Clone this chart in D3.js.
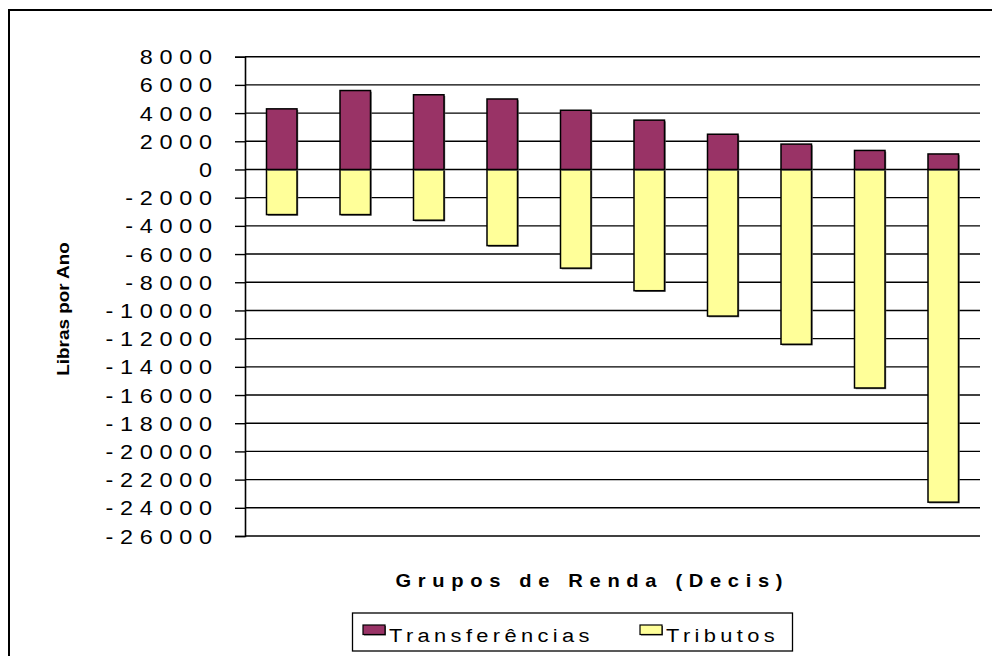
<!DOCTYPE html>
<html><head><meta charset="utf-8">
<script src="https://cdn.jsdelivr.net/npm/d3@7"></script>
<style>html,body{margin:0;padding:0;background:#fff;}svg{display:block;}</style>
</head><body>
<svg id="chart" width="992" height="656"></svg>
<script>
const categories = [1,2,3,4,5,6,7,8,9,10];
const transferencias = [4300, 5600, 5300, 5000, 4200, 3500, 2500, 1800, 1350, 1100];
const tributos = [-3200, -3200, -3600, -5400, -7000, -8600, -10400, -12400, -15500, -23600];
const yTicks = [8000,6000,4000,2000,0,-2000,-4000,-6000,-8000,-10000,-12000,-14000,-16000,-18000,-20000,-22000,-24000,-26000];
const seriesNames = ["Transferências", "Tributos"];
const colors = ["#993366", "#FFFF99"];

const svg = d3.select("#chart");
const FONT = "Arial, 'Liberation Sans', sans-serif";

svg.append("rect").attr("x",9).attr("y",10).attr("width",1000).attr("height",700)
  .attr("fill","#fff").attr("stroke","#000").attr("stroke-width",2);

const x = d3.scaleBand().domain(categories).range([245,980]).paddingInner(0.585).paddingOuter(0.2925);
const y = d3.scaleLinear().domain([-26000, 8000]).range([536, 56.7]);

function stext(g, str, px, py, opts){
  const sx = opts.sx || 1.2;
  const ls = opts.ls || 0;
  return g.append("text")
    .attr("transform", `translate(${px},${py})${opts.rotate?` rotate(${opts.rotate})`:''} scale(${sx},1)`)
    .attr("text-anchor", opts.anchor||"start")
    .attr("dx", opts.anchor==="end" ? ls : (opts.anchor==="middle" ? ls/2 : 0))
    .style("font-family", FONT)
    .style("font-size", opts.size+"px")
    .style("font-weight", opts.bold?"bold":"normal")
    .style("letter-spacing", ls+"px")
    .attr("fill","#000")
    .text(str);
}

// gridlines
svg.append("g").selectAll("line").data(yTicks).join("line")
  .attr("x1",245).attr("x2",980)
  .attr("y1",d=>y(d)).attr("y2",d=>y(d))
  .attr("stroke","#000").attr("stroke-width",1.4);

// axis
const axis = svg.append("g").attr("transform","translate(245,0)")
  .call(d3.axisLeft(y).tickValues(yTicks).tickSize(10).tickFormat(""));
axis.select(".domain").attr("stroke","#000").attr("stroke-width",1.6);
axis.selectAll(".tick line").attr("stroke","#000").attr("stroke-width",1.4);

const labels = svg.append("g");
yTicks.forEach(v => {
  stext(labels, String(v), 212, y(v)+7.5, {anchor:"end", size:19.5, ls:5.6, sx:1.2});
});

// bars
const bars = svg.append("g");
function drawSeries(vals, color){
  const g = bars.append("g");
  g.selectAll("rect.sh").data(vals).join("rect").attr("class","sh")
    .attr("x",(d,i)=>x(categories[i])+1.2)
    .attr("y",d=>Math.min(y(d),y(0))+1.2)
    .attr("width",x.bandwidth())
    .attr("height",d=>Math.abs(y(d)-y(0)))
    .attr("fill","#666");
  g.selectAll("rect.b").data(vals).join("rect").attr("class","b")
    .attr("x",(d,i)=>x(categories[i]))
    .attr("y",d=>Math.min(y(d),y(0)))
    .attr("width",x.bandwidth())
    .attr("height",d=>Math.abs(y(d)-y(0)))
    .attr("fill",color).attr("stroke","#000").attr("stroke-width",1.5);
}
drawSeries(tributos, colors[1]);
drawSeries(transferencias, colors[0]);

// axis titles
stext(svg, "Libras por Ano", 69, 309, {anchor:"middle", size:16, bold:true, rotate:-90, ls:0, sx:1.18});
stext(svg, "Grupos de Renda (Decis)", 589, 587, {anchor:"middle", size:17.5, bold:true, ls:5.8, sx:1.15});

// legend
const lg = svg.append("g");
lg.append("rect").attr("x",352.5).attr("y",613).attr("width",440).attr("height",38)
  .attr("fill","#fff").attr("stroke","#000").attr("stroke-width",1.3);
const legItems = [{name:seriesNames[0], color:colors[0], sx:363, tx:389},{name:seriesNames[1], color:colors[1], sx:640, tx:666}];
legItems.forEach(it=>{
  lg.append("rect").attr("x",it.sx+1).attr("y",626).attr("width",22).attr("height",9.5).attr("fill","#555");
  lg.append("rect").attr("x",it.sx).attr("y",625).attr("width",22).attr("height",9.5)
    .attr("fill",it.color).attr("stroke","#000").attr("stroke-width",1.2);
  stext(lg, it.name, it.tx, 642, {anchor:"start", size:19, ls:3.8, sx:1.15});
});
</script>
</body></html>
